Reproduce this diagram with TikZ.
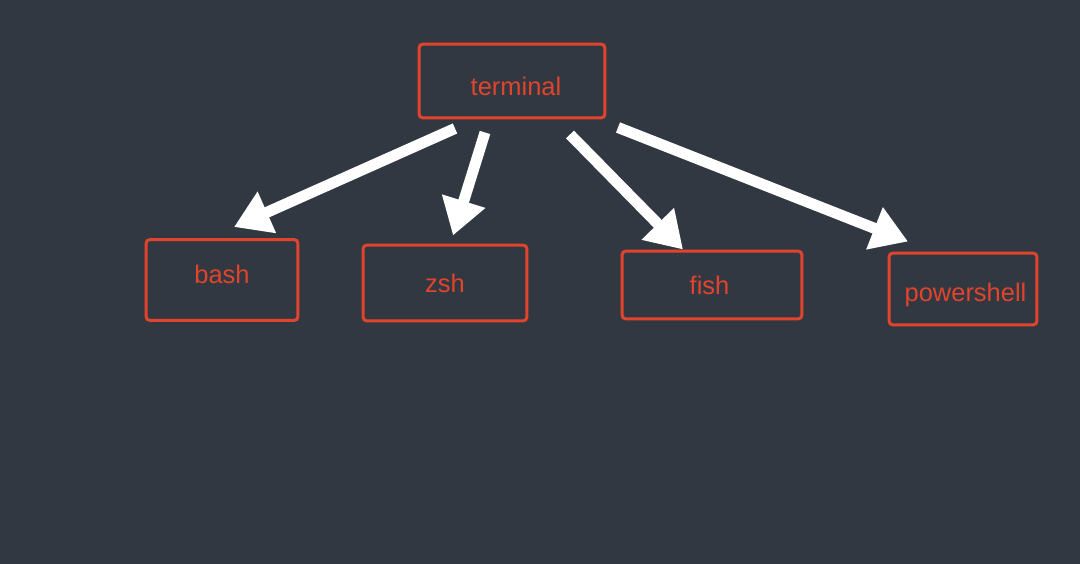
\documentclass[tikz,border=0pt]{standalone}
\usepackage{fontspec}
\setmainfont{Liberation Sans}
\usetikzlibrary{arrows.meta,calc}
\definecolor{bgdark}{RGB}{50,56,66}
\definecolor{boxred}{RGB}{224,68,44}
\tikzset{
    shellbox/.style={draw=boxred, line width=0.06cm, rounded corners=0.08cm, text=boxred, font=\fontsize{14.5}{16}\selectfont},
    bigarrow/.style={white, line width=0.22cm, -{Triangle[length=0.72cm, width=0.86cm]}}
}
\begin{document}
\begin{tikzpicture}[x=0.02cm, y=-0.02cm]
            \fill[bgdark] (0,0) rectangle (1080,564);
            \useasboundingbox (0,0) rectangle (1080,564);
            \node[shellbox, minimum width=3.72cm, minimum height=1.48cm] (terminal) at (512,81) {\hspace{0.16cm}\raisebox{-0.29cm}[0pt][0pt]{terminal}};
            \node[shellbox, minimum width=3.04cm, minimum height=1.62cm] (bash) at (222,280) {\raisebox{0.24cm}{bash}};
            \node[shellbox, minimum width=3.28cm, minimum height=1.52cm] (zsh) at (445,283) {zsh};
            \node[shellbox, minimum width=3.6cm, minimum height=1.36cm] (fish) at (712,285) {\hspace{-0.1cm}fish};
            \node[shellbox, minimum width=2.96cm, minimum height=1.44cm] (powershell) at (963,289) {\hspace{0.1cm}\raisebox{-0.26cm}[0pt][0pt]{powershell}};
            \draw[bigarrow] ($(terminal.south)+(-57,9)$) -- ($(bash.north)+(12,-11)$);
            \draw[bigarrow] ($(terminal.south)+(-27,13)$) -- ($(zsh.north)+(8,-8)$);
            \draw[bigarrow] ($(terminal.south)+(58,15)$) -- ($(fish.north)+(-29,0)$);
            \draw[bigarrow] ($(terminal.south)+(106,8)$) -- ($(powershell.north)+(-55,-10)$);
        \end{tikzpicture}
\end{document}
